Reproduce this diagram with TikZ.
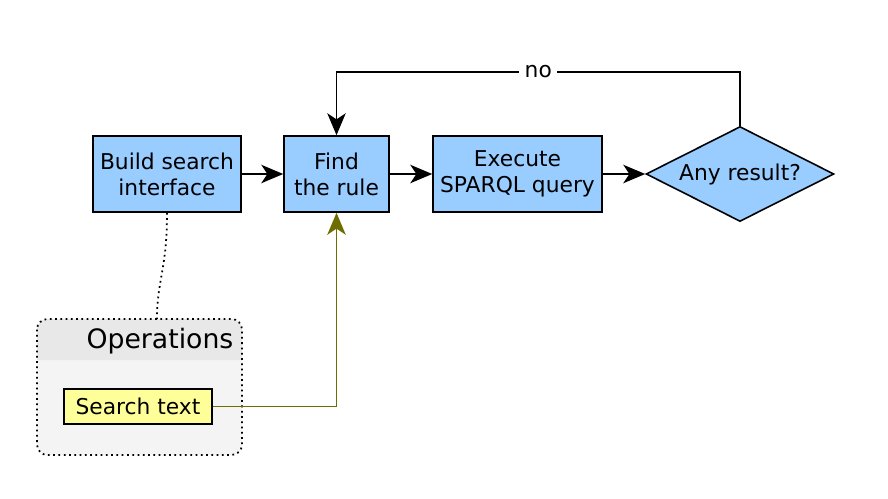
\documentclass[tikz,border=0pt]{standalone}
\usepackage{fontspec}
\setmainfont{DejaVu Sans}
\usetikzlibrary{arrows.meta,shapes.geometric}

\definecolor{boxblue}{HTML}{99CCFF}
\definecolor{notey}{HTML}{FFFF99}
\definecolor{grouphead}{HTML}{E8E8E8}
\definecolor{groupbody}{HTML}{F4F4F4}
\definecolor{olivelink}{HTML}{6E6E00}

\tikzset{
  stepbox/.style={draw, fill=boxblue, align=center, inner sep=0pt,
    font=\fontsize{12.4}{14.7}\selectfont},
  choice/.style={draw, fill=boxblue, diamond, aspect=2, inner sep=0pt,
    minimum width=3.76cm, minimum height=1.9cm, font=\fontsize{12.4}{14.7}\selectfont},
  flow/.style={-{Stealth[length=12.5pt,width=10.5pt,inset=3.5pt]}},
}

\begin{document}
\begin{tikzpicture}[x=0.02cm,y=-0.02cm,line width=0.9pt]
\useasboundingbox (0,0) rectangle (888,498);

% operations group
\fill[groupbody, rounded corners=6] (37,319) rectangle (242,455);
\fill[grouphead, rounded corners=6] (37,360) |- (242,319) [sharp corners] -- (242,360) -- cycle;
\draw[dotted, line width=1pt, rounded corners=6] (37,319) rectangle (242,455);
\node[anchor=east, font=\fontsize{15.2}{18}\selectfont] (ops) at (240,341) {Operations};

% steps
\node[stepbox, minimum width=2.96cm, minimum height=1.52cm] (build) at (167,174) {Build search\\interface};
\node[stepbox, minimum width=2.1cm, minimum height=1.52cm] (find) at (336.5,174) {Find\\the rule};
\node[stepbox, minimum width=3.38cm, minimum height=1.52cm] (exec) at (517.5,174) {Execute\\SPARQL query};
\node[choice] (any) at (740,174) {Any result?};
\node[draw, fill=notey, minimum width=2.96cm, minimum height=0.7cm, inner sep=0pt,
  font=\fontsize{12.4}{14}\selectfont] (search) at (138,406.5) {Search text};

\coordinate (opstop) at (157,319);
\coordinate (loop) at (740,72);

\draw[flow] (build) -- (find);
\draw[flow] (find) -- (exec);
\draw[flow] (exec) -- (any);
\draw[flow] (any.north) -- (loop) -| node[pos=0.25, fill=white, inner sep=3pt,
  font=\fontsize{12.4}{14}\selectfont] {no} (find.north);
\draw[flow, olivelink, line width=1.1pt] (search.east) -| (find.south);
\draw[dotted, line width=1pt] (build.south) .. controls (167,270) and (157,280) .. (opstop);
\end{tikzpicture}
\end{document}
